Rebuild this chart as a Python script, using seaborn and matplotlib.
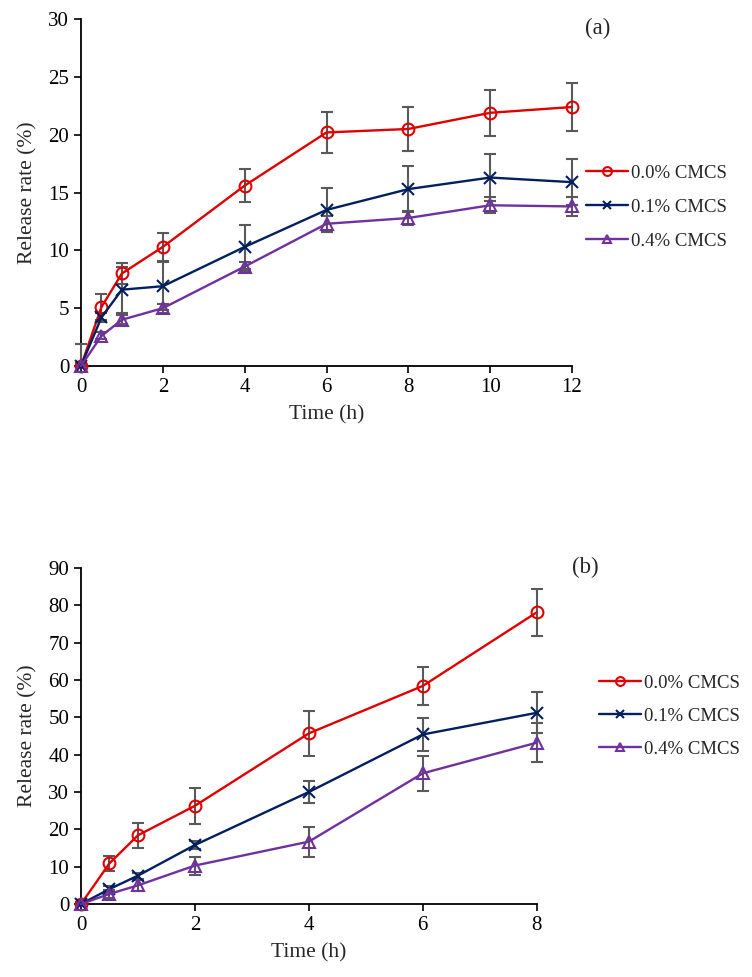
import matplotlib.pyplot as plt
import seaborn as sns

custom_params = {"axes.spines.right": False, "axes.spines.top": False}
sns.set_theme(style="ticks", rc=custom_params)
plt.rcParams["font.family"] = ["Liberation Serif", "DejaVu Serif"]
plt.rcParams["font.size"] = 15

labels = ["0.0% CMCS", "0.1% CMCS", "0.4% CMCS"]
colors = ["#E00000", "#002060", "#7030A0"]
markers = ["o", "x", "^"]

# panel (a)
time_a = [0, 0.5, 1, 2, 4, 6, 8, 10, 12]
rate_a_00 = [0, 5.1, 8.0, 10.3, 15.6, 20.2, 20.5, 21.9, 22.4]
rate_a_01 = [0, 4.2, 6.6, 6.9, 10.3, 13.5, 15.3, 16.3, 15.9]
rate_a_04 = [0, 2.6, 4.0, 5.0, 8.6, 12.3, 12.8, 13.9, 13.8]
err_a_00 = [1.9, 1.1, 0.9, 1.2, 1.4, 1.8, 1.9, 2.0, 2.1]
err_a_01 = [0.3, 0.4, 2.0, 2.1, 1.9, 1.9, 2.0, 2.0, 2.0]
err_a_04 = [0.2, 0.3, 0.4, 0.4, 0.4, 0.7, 0.6, 0.7, 0.8]

# panel (b)
time_b = [0, 0.5, 1, 2, 4, 6, 8]
rate_b_00 = [0, 10.9, 18.4, 26.3, 45.7, 58.4, 78.1]
rate_b_01 = [0, 4.0, 7.6, 15.8, 30.0, 45.4, 51.2]
rate_b_04 = [0, 2.7, 5.0, 10.3, 16.7, 35.0, 43.2]
err_b_00 = [0.5, 2.0, 3.4, 4.8, 6.0, 5.2, 6.3]
err_b_01 = [0.3, 0.8, 0.8, 1.0, 3.0, 4.3, 5.5]
err_b_04 = [0.3, 1.0, 1.5, 2.4, 4.0, 4.7, 5.3]


def draw_panel(ax, t, series, errors, ylim, yticks, xticks):
    for y, e, lab, col, mk in zip(series, errors, labels, colors, markers):
        sns.lineplot(x=t, y=y, color=col, marker=mk, markersize=8.5,
                     markerfacecolor="none", markeredgecolor=col,
                     markeredgewidth=1.5, linewidth=1.7, label=lab,
                     clip_on=False, zorder=4, ax=ax)
        # bars are cut at the x axis, as in the source figure
        lower = [min(ei, yi) for ei, yi in zip(e, y)]
        _, caps, bars = ax.errorbar(t, y, yerr=[lower, e], fmt="none",
                                    ecolor="#595959", elinewidth=1.5,
                                    capsize=4, capthick=1.5, zorder=3)
        for a in list(caps) + list(bars):
            a.set_clip_on(False)
    ax.set_xlim(xticks[0], xticks[-1])
    ax.set_ylim(*ylim)
    ax.set_xticks(xticks)
    ax.set_yticks(yticks)
    ax.set_xlabel("Time (h)", fontsize=15.5, labelpad=6)
    ax.set_ylabel("Release rate (%)", fontsize=15.5, labelpad=8)
    ax.tick_params(direction="out", length=5, width=1.2, labelsize=15,
                   colors="black")
    for sp in ("left", "bottom"):
        ax.spines[sp].set_linewidth(1.3)
        ax.spines[sp].set_color("black")


fig = plt.figure(figsize=(7.52, 9.77), dpi=100)
ax_a = fig.add_axes([0.1077, 0.6254, 0.653, 0.355])
ax_b = fig.add_axes([0.1077, 0.0747, 0.606, 0.344])

draw_panel(ax_a, time_a, [rate_a_00, rate_a_01, rate_a_04],
           [err_a_00, err_a_01, err_a_04], (0, 30), range(0, 31, 5),
           list(range(0, 13, 2)))
draw_panel(ax_b, time_b, [rate_b_00, rate_b_01, rate_b_04],
           [err_b_00, err_b_01, err_b_04], (0, 90), range(0, 91, 10),
           list(range(0, 9, 2)))

for ax, anchor, spacing in ((ax_a, (0.767, 0.788), 0.9), (ax_b, (0.784, 0.267), 0.85)):
    handles, labs = ax.get_legend_handles_labels()
    ax.legend(handles, labs, loc="center left", bbox_to_anchor=anchor,
              bbox_transform=fig.transFigure, frameon=False, fontsize=13.5,
              handlelength=2.25, handletextpad=0.15, labelspacing=spacing,
              borderpad=0, markerscale=0.75)

fig.text(0.795, 0.971, "(a)", fontsize=16.5, ha="center", va="center")
fig.text(0.778, 0.419, "(b)", fontsize=16.5, ha="center", va="center")

fig.savefig("out.png", dpi=100)
